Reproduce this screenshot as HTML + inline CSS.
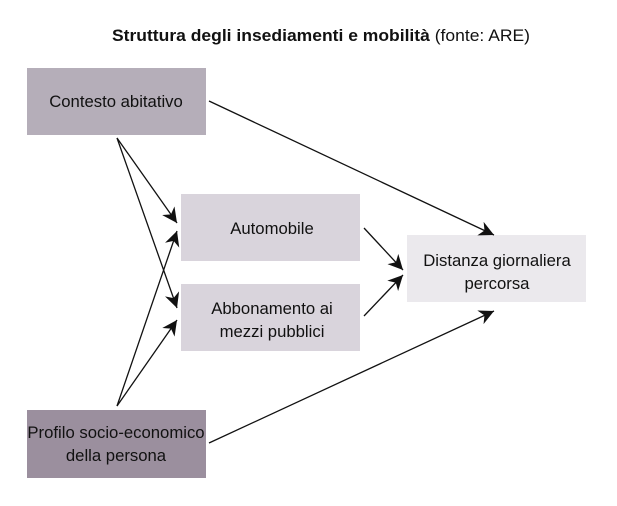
<!DOCTYPE html>
<html><head><style>
body{margin:0;background:#fff;}
svg{display:block;font-family:"Liberation Sans",sans-serif;}
</style></head><body>
<svg width="617" height="506" viewBox="0 0 617 506">
<defs><marker id="a" viewBox="0 0 10 10" refX="10" refY="5" markerWidth="15" markerHeight="15" markerUnits="userSpaceOnUse" orient="auto"><path d="M0,0 L10,5 L0,10 L3,5 z" fill="#111"/></marker></defs>
<text x="321" y="41" text-anchor="middle" font-size="17" fill="#111" textLength="418" lengthAdjust="spacingAndGlyphs"><tspan font-weight="bold">Struttura degli insediamenti e mobilità</tspan> (fonte: ARE)</text>
<rect x="27" y="68" width="179" height="67" fill="#b5aeb9"/>
<rect x="181" y="194" width="179" height="67" fill="#d9d4dc"/>
<rect x="181" y="284" width="179" height="67" fill="#d9d4dc"/>
<rect x="407" y="235" width="179" height="67" fill="#ebe9ed"/>
<rect x="27" y="410" width="179" height="68" fill="#9b8f9e"/>
<g font-size="16.7" fill="#111" text-anchor="middle">
<text x="116" y="107">Contesto abitativo</text>
<text x="272" y="234">Automobile</text>
<text x="272" y="314">Abbonamento ai</text>
<text x="272" y="337">mezzi pubblici</text>
<text x="497" y="266">Distanza giornaliera</text>
<text x="497" y="289">percorsa</text>
<text x="116" y="438">Profilo socio-economico</text>
<text x="116" y="461">della persona</text>
</g>
<g stroke="#111" stroke-width="1.3" marker-end="url(#a)">
<line x1="209" y1="101" x2="494" y2="235"/>
<line x1="117" y1="138" x2="177" y2="223"/>
<line x1="117" y1="138" x2="177" y2="308"/>
<line x1="117" y1="406" x2="177" y2="231"/>
<line x1="117" y1="406" x2="177" y2="320"/>
<line x1="364" y1="228" x2="403" y2="270"/>
<line x1="364" y1="316" x2="403" y2="275"/>
<line x1="209" y1="443" x2="494" y2="311"/>
</g>
</svg>
</body></html>
